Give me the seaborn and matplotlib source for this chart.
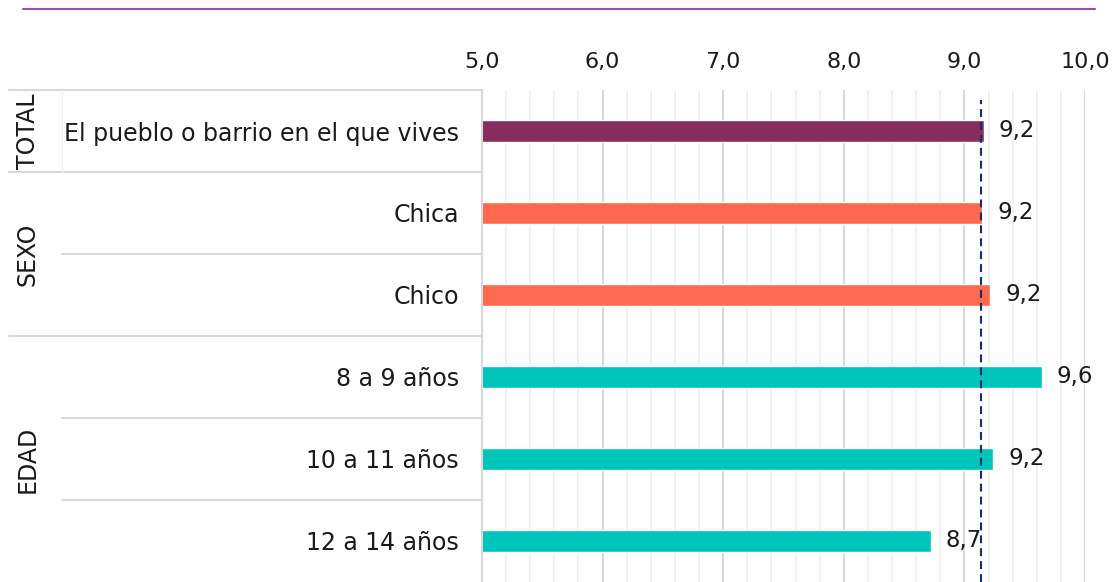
import matplotlib
matplotlib.use("Agg")
import matplotlib.pyplot as plt
import matplotlib.transforms as mtransforms
from matplotlib.lines import Line2D
from matplotlib.ticker import MultipleLocator, FuncFormatter
import seaborn as sns
import pandas as pd

# Data
categories = ["El pueblo o barrio en el que vives", "Chica", "Chico",
              "8 a 9 años", "10 a 11 años", "12 a 14 años"]
groups = ["TOTAL", "SEXO", "SEXO", "EDAD", "EDAD", "EDAD"]
values = [9.16, 9.15, 9.21, 9.64, 9.24, 8.72]
reference_value = 9.14
group_labels = ["TOTAL", "SEXO", "EDAD"]
group_colors = {"TOTAL": "#862D5E", "SEXO": "#FF6950", "EDAD": "#00C5BA"}

df = pd.DataFrame({"categoria": categories, "grupo": groups, "valor": values})

sns.set_theme(style="white")
plt.rcParams["font.family"] = ["DejaVu Sans"]
TEXT = "#1a1a1a"
LINE = "#d9d9d9"

W, H = 1115, 582
fig = plt.figure(figsize=(W / 100, H / 100), dpi=100)
ax = fig.add_axes([482 / W, 0, (1085 - 482) / W, 492 / H])

sns.barplot(data=df, y="categoria", x="valor", hue="grupo", palette=group_colors,
            dodge=False, width=0.27, orient="h", saturation=1, legend=False, ax=ax)

ax.set_xlim(5, 10)
ax.set_ylim(5.5, -0.5)
ax.set_xlabel("")
ax.set_ylabel("")

# Top axis with comma decimals, major/minor grid
ax.xaxis.tick_top()
ax.xaxis.set_major_locator(MultipleLocator(1))
ax.xaxis.set_minor_locator(MultipleLocator(0.2))
ax.xaxis.set_major_formatter(FuncFormatter(lambda x, _: f"{x:.1f}".replace(".", ",")))
ax.tick_params(axis="x", which="both", length=0, pad=13, labelsize=16, labelcolor=TEXT)
ax.tick_params(axis="y", length=0, pad=16.5, labelsize=17, labelcolor=TEXT)
ax.grid(axis="x", which="major", color=LINE, lw=1.5)
ax.grid(axis="x", which="minor", color="#efefef", lw=1.2)
ax.grid(axis="y", visible=False)
ax.set_axisbelow(True)

for side in ["top", "right", "bottom"]:
    ax.spines[side].set_visible(False)
ax.spines["left"].set_color(LINE)
ax.spines["left"].set_linewidth(1.5)

# Average reference line
ax.axvline(reference_value, ymin=0, ymax=0.98, color="#1B2A6B",
           ls=(0, (3.8, 2.4)), lw=1.5, zorder=3)

# Value labels
for i, v in enumerate(values):
    ax.annotate(f"{v:.1f}".replace(".", ","), (v, i), xytext=(11, 0),
                textcoords="offset points", ha="left", va="center",
                fontsize=16.5, color=TEXT)

# Table separators on the left side
blend = mtransforms.blended_transform_factory(fig.transFigure, ax.transData)
full_x0, part_x0, x1 = 9 / W, 62 / W, 482 / W
for y in [-0.5, 0.5, 2.5]:
    ax.plot([full_x0, x1], [y, y], color=LINE, lw=1.5, transform=blend, clip_on=False)
for y in [1.5, 3.5, 4.5]:
    ax.plot([part_x0, x1], [y, y], color=LINE, lw=1.5, transform=blend, clip_on=False)
ax.plot([part_x0, part_x0], [-0.5, 0.5], color="#f0f0f0", lw=1, transform=blend, clip_on=False)

# Group labels
for name, yc in zip(group_labels, [0, 1.5, 4]):
    ax.text(28 / W, yc, name, transform=blend, rotation=90, ha="center", va="center",
            fontsize=17, color=TEXT)

# Decorative top rule
fig.add_artist(Line2D([23 / W, 1095 / W], [1 - 9 / H] * 2, color="#9152B8", lw=1.5))

fig.savefig("out.png", dpi=100)
